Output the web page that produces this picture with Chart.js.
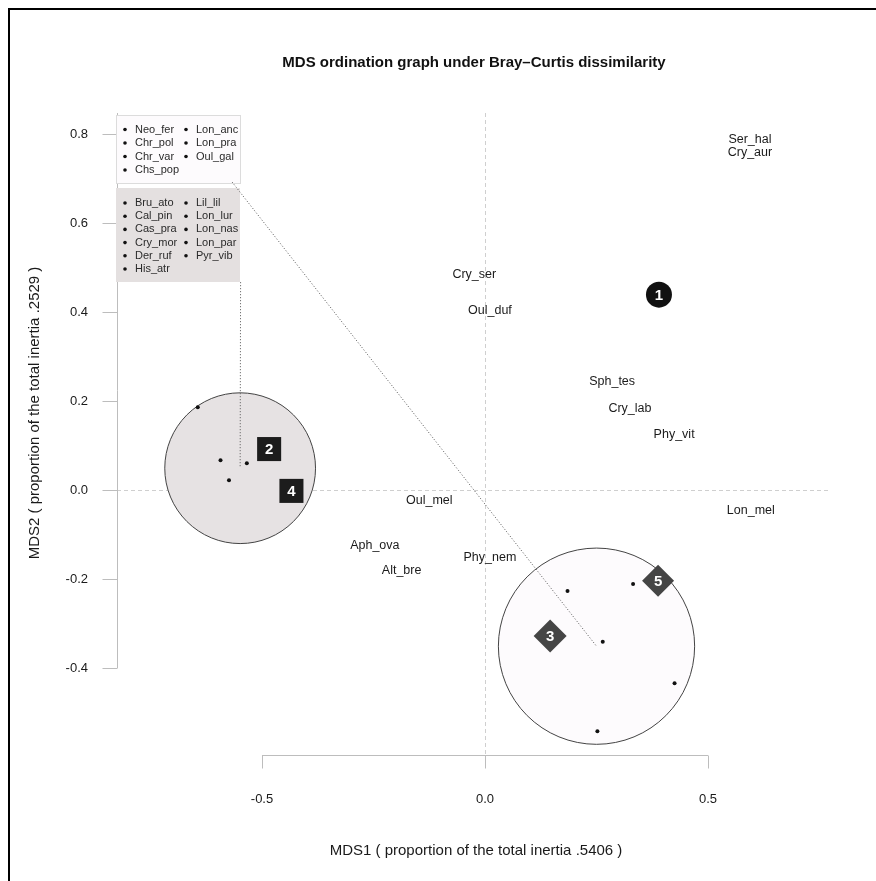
<!DOCTYPE html>
<html>
<head>
<meta charset="utf-8">
<script src="https://cdn.jsdelivr.net/npm/chart.js@4.4.1/dist/chart.umd.min.js"></script>
<style>
  html, body { margin: 0; padding: 0; background: #fff; }
  canvas { display: block; }
</style>
</head>
<body>
<canvas id="mdsChart" width="876" height="881"></canvas>
<script>
// species scores shown as text labels (MDS1, MDS2)
let speciesNames = ["Ser_hal", "Cry_aur", "Cry_ser", "Oul_duf", "Sph_tes", "Cry_lab", "Phy_vit", "Lon_mel", "Oul_mel", "Aph_ova", "Alt_bre", "Phy_nem"];
let speciesX = [0.594, 0.594, -0.024, 0.011, 0.285, 0.325, 0.424, 0.596, -0.125, -0.247, -0.187, 0.011];
let speciesY = [0.787, 0.758, 0.485, 0.403, 0.243, 0.182, 0.124, -0.047, -0.024, -0.125, -0.182, -0.151];

// sites grouped in the two circles
let groupAX = [-0.644, -0.593, -0.534, -0.574];
let groupAY = [0.186, 0.067, 0.060, 0.022];
let groupBX = [0.185, 0.332, 0.264, 0.425, 0.252];
let groupBY = [-0.227, -0.211, -0.341, -0.434, -0.542];

// circles: centre and radius in MDS units
let circleX = [-0.549, 0.250];
let circleY = [0.049, -0.351];
let circleR = [0.169, 0.220];

// numbered markers
let markerNames = ["1", "2", "3", "4", "5"];
let markerX = [0.390, -0.484, 0.146, -0.434, 0.388];
let markerY = [0.439, 0.092, -0.328, -0.002, -0.204];
let markerShape = ["circle", "rect", "rectRot", "rect", "rectRot"];

// dotted links from legend boxes to circle centres
let linkAX = [-0.548, -0.549];
let linkAY = [0.467, 0.049];
let linkBX = [-0.567, 0.250];
let linkBY = [0.692, -0.351];

// legend lists
let legendWhiteCol1 = ["Neo_fer", "Chr_pol", "Chr_var", "Chs_pop"];
let legendWhiteCol2 = ["Lon_anc", "Lon_pra", "Oul_gal"];
let legendGrayCol1 = ["Bru_ato", "Cal_pin", "Cas_pra", "Cry_mor", "Der_ruf", "His_atr"];
let legendGrayCol2 = ["Lil_lil", "Lon_lur", "Lon_nas", "Lon_par", "Pyr_vib"];

// axis ticks
let xTicks = [-0.5, 0.0, 0.5];
let yTicks = [-0.4, -0.2, 0.0, 0.2, 0.4, 0.6, 0.8];

let chartTitle = "MDS ordination graph under Bray\u2013Curtis dissimilarity";
let xTitle = "MDS1 ( proportion of the total inertia .5406 )";
let yTitle = "MDS2 ( proportion of the total inertia .2529 )";

const FONT = "'Liberation Sans', Arial, sans-serif";

function toPoints(xs, ys) {
  return xs.map((x, i) => ({ x: x, y: ys[i] }));
}

// draws R-like frame, axes, zero lines and legends
const decorPlugin = {
  id: "decor",
  beforeDraw(chart) {
    let ctx = chart.ctx;
    let xs = chart.scales.x, ys = chart.scales.y;
    let area = chart.chartArea;
    ctx.save();
    ctx.fillStyle = "#fff";
    ctx.fillRect(0, 0, chart.width, chart.height);

    // outer frame (only top and left visible)
    ctx.strokeStyle = "#000";
    ctx.lineWidth = 2;
    ctx.beginPath();
    ctx.moveTo(9, chart.height);
    ctx.lineTo(9, 9);
    ctx.lineTo(chart.width, 9);
    ctx.stroke();

    // zero lines
    ctx.strokeStyle = "#cfcfcf";
    ctx.lineWidth = 1;
    ctx.setLineDash([4, 3]);
    ctx.beginPath();
    let x0 = Math.round(xs.getPixelForValue(0)) + 0.5;
    let y0 = Math.round(ys.getPixelForValue(0)) + 0.5;
    ctx.moveTo(x0, area.top);
    ctx.lineTo(x0, area.bottom);
    ctx.moveTo(area.left, y0);
    ctx.lineTo(area.right, y0);
    ctx.stroke();
    ctx.setLineDash([]);

    // axes
    ctx.strokeStyle = "#bdbdbd";
    ctx.beginPath();
    let yb = area.bottom + 0.5;
    ctx.moveTo(xs.getPixelForValue(xTicks[0]), yb);
    ctx.lineTo(xs.getPixelForValue(xTicks[xTicks.length - 1]), yb);
    xTicks.forEach(t => {
      let px = Math.round(xs.getPixelForValue(t)) + 0.5;
      ctx.moveTo(px, yb);
      ctx.lineTo(px, yb + 13);
    });
    let xl = area.left + 0.5;
    ctx.moveTo(xl, ys.getPixelForValue(yTicks[0]));
    ctx.lineTo(xl, area.top);
    yTicks.forEach(t => {
      let py = Math.round(ys.getPixelForValue(t)) + 0.5;
      ctx.moveTo(xl, py);
      ctx.lineTo(xl - 15, py);
    });
    ctx.stroke();

    ctx.fillStyle = "#1a1a1a";
    ctx.font = "13px " + FONT;
    ctx.textAlign = "center";
    ctx.textBaseline = "middle";
    xTicks.forEach(t => ctx.fillText(t.toFixed(1), xs.getPixelForValue(t), 799));
    ctx.textAlign = "right";
    yTicks.forEach(t => ctx.fillText(t.toFixed(1), 88, ys.getPixelForValue(t)));

    // titles
    ctx.textAlign = "center";
    ctx.font = "bold 15px " + FONT;
    ctx.fillStyle = "#111";
    ctx.fillText(chartTitle, 474, 63);
    ctx.font = "15px " + FONT;
    ctx.fillStyle = "#1a1a1a";
    ctx.fillText(xTitle, 476, 851);
    ctx.save();
    ctx.translate(35, 413);
    ctx.rotate(-Math.PI / 2);
    ctx.fillText(yTitle, 0, 0);
    ctx.restore();

    // legend boxes
    let bx = area.left - 1, bw = 124;
    ctx.fillStyle = "#fdfbfd";
    ctx.strokeStyle = "#dcdcdc";
    ctx.fillRect(bx, 115, bw, 68);
    ctx.strokeRect(bx + 0.5, 115.5, bw, 68);
    ctx.fillStyle = "#e4e0e0";
    ctx.fillRect(bx, 188, bw, 94);

    ctx.font = "11px " + FONT;
    ctx.textAlign = "left";
    function drawList(list, bulletX, startY, step) {
      list.forEach((name, i) => {
        let y = startY + i * step;
        ctx.fillStyle = "#111";
        ctx.beginPath();
        ctx.arc(bulletX, y, 1.8, 0, Math.PI * 2);
        ctx.fill();
        ctx.fillStyle = "#2a2a2a";
        ctx.fillText(name, bulletX + 10, y);
      });
    }
    drawList(legendWhiteCol1, 125, 129.5, 13.5);
    drawList(legendWhiteCol2, 186, 129.5, 13.5);
    drawList(legendGrayCol1, 125, 203, 13.2);
    drawList(legendGrayCol2, 186, 203, 13.2);
    ctx.restore();
  },
  afterDatasetsDraw(chart) {
    let ctx = chart.ctx;
    ctx.save();
    ctx.textAlign = "center";
    ctx.textBaseline = "middle";
    // species labels
    let sMeta = chart.getDatasetMeta(0);
    ctx.font = "12.5px " + FONT;
    ctx.fillStyle = "#1a1a1a";
    sMeta.data.forEach((pt, i) => ctx.fillText(speciesNames[i], pt.x, pt.y));
    // marker numbers
    let mMeta = chart.getDatasetMeta(1);
    ctx.font = "bold 15px " + FONT;
    ctx.fillStyle = "#fff";
    mMeta.data.forEach((pt, i) => ctx.fillText(markerNames[i], pt.x, pt.y + 1));
    ctx.restore();
  }
};

function radiusPx(ctx) {
  let xs = ctx.chart.scales.x;
  return Math.abs(xs.getPixelForValue(circleR[ctx.dataIndex]) - xs.getPixelForValue(0));
}

let ctx = document.getElementById("mdsChart").getContext("2d");
let myChart = new Chart(ctx, {
  type: "scatter",
  data: {
    datasets: [
      {
        label: "species",
        data: toPoints(speciesX, speciesY),
        pointRadius: 0,
        order: 1
      },
      {
        label: "markers",
        data: toPoints(markerX, markerY),
        pointStyle: markerShape,
        pointRadius: [13, 17, 16.5, 17, 16],
        backgroundColor: ["#111", "#1c1c1c", "#454545", "#1c1c1c", "#454545"],
        borderWidth: 0,
        order: 2
      },
      {
        label: "group A",
        data: toPoints(groupAX, groupAY),
        pointRadius: 2,
        backgroundColor: "#111",
        borderWidth: 0,
        order: 3
      },
      {
        label: "group B",
        data: toPoints(groupBX, groupBY),
        pointRadius: 2,
        backgroundColor: "#111",
        borderWidth: 0,
        order: 3
      },
      {
        label: "link A",
        data: toPoints(linkAX, linkAY),
        showLine: true,
        pointRadius: 0,
        borderColor: "#555",
        borderWidth: 1,
        borderDash: [1, 2],
        order: 4
      },
      {
        label: "link B",
        data: toPoints(linkBX, linkBY),
        showLine: true,
        pointRadius: 0,
        borderColor: "#555",
        borderWidth: 1,
        borderDash: [1, 2],
        order: 4
      },
      {
        label: "circles",
        data: toPoints(circleX, circleY),
        pointRadius: radiusPx,
        backgroundColor: ["#e6e2e3", "#fdfbfd"],
        borderColor: "#444",
        borderWidth: 1,
        order: 5
      }
    ]
  },
  options: {
    responsive: false,
    animation: false,
    events: [],
    layout: { padding: { left: 117, right: 46, top: 113, bottom: 126 } },
    plugins: { legend: { display: false }, tooltip: { enabled: false } },
    scales: {
      x: { type: "linear", display: false, min: -0.8251, max: 0.7735 },
      y: { type: "linear", display: false, min: -0.5955, max: 0.8472 }
    }
  },
  plugins: [decorPlugin]
});
</script>
</body>
</html>
